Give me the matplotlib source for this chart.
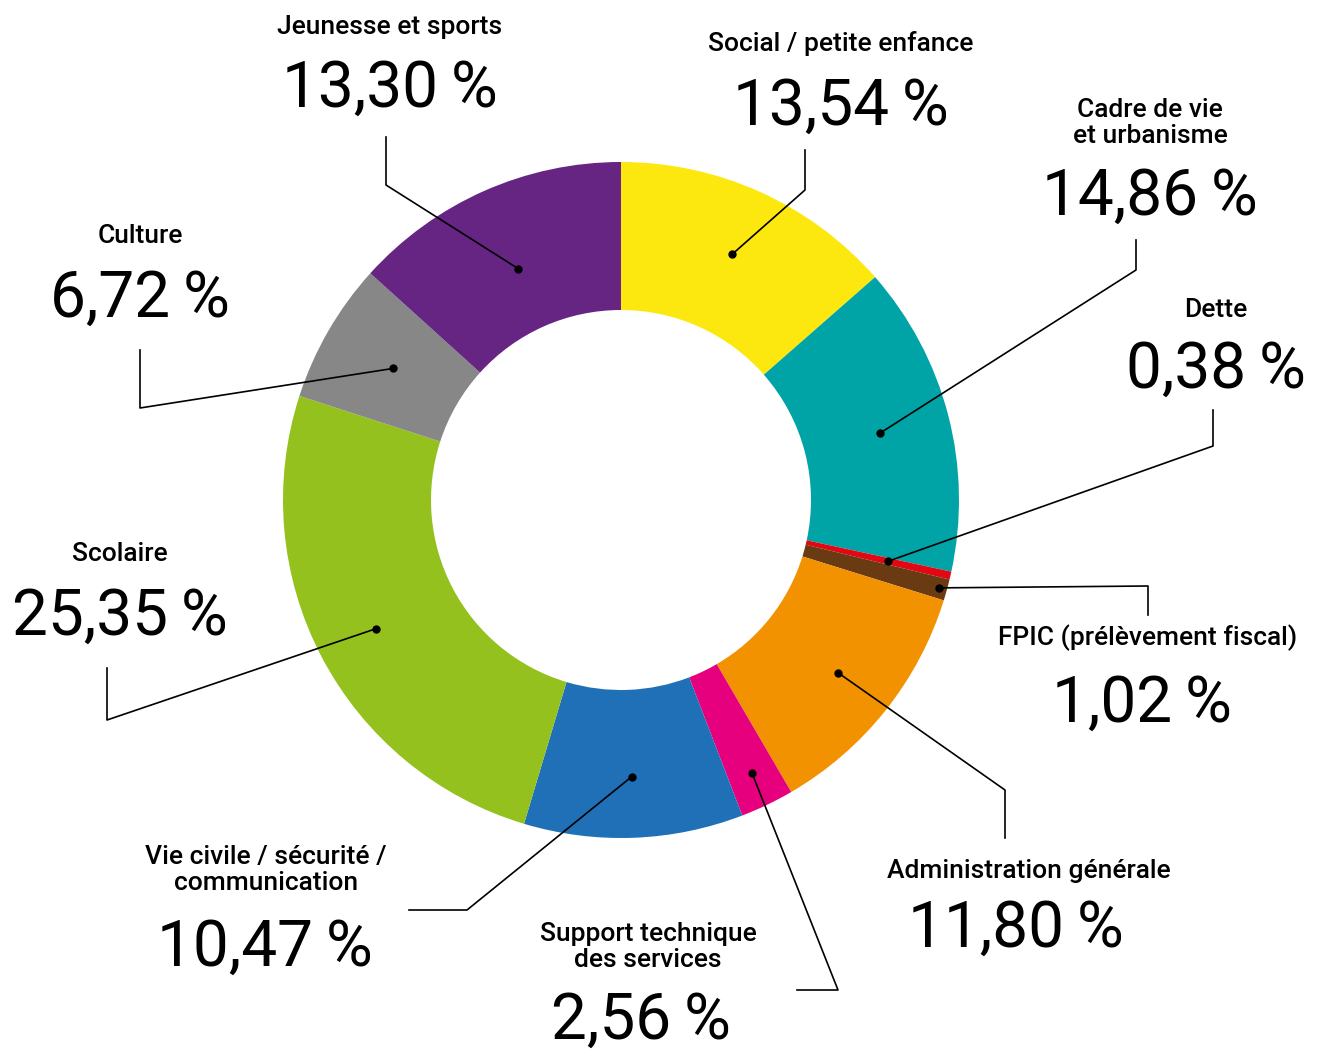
import numpy as np
import matplotlib
matplotlib.use("Agg")
import matplotlib.pyplot as plt

# données
categories = ["Social / petite enfance", "Cadre de vie\net urbanisme", "Dette",
              "FPIC (prélèvement fiscal)", "Administration générale",
              "Support technique\ndes services", "Vie civile / sécurité /\ncommunication",
              "Scolaire", "Culture", "Jeunesse et sports"]
values = [13.54, 14.86, 0.38, 1.02, 11.80, 2.56, 10.47, 25.35, 6.72, 13.30]
pct_labels = ["13,54\u2009%", "14,86\u2009%", "0,38\u2009%", "1,02\u2009%", "11,80\u2009%",
              "2,56\u2009%", "10,47\u2009%", "25,35\u2009%", "6,72\u2009%", "13,30\u2009%"]
colors = ["#FCE80F", "#00A4A7", "#E30613", "#6A3A12", "#F39200",
          "#E6007E", "#1F70B7", "#95C11F", "#878787", "#662483"]

# mise en page (pixels)
cx, cy = 621, 500
R_out, R_in = 338, 190
dot_r = [270, 268, 274, 330, 277, 303, 277, 277, 263, 253]
# coude, fin de ligne, position du titre, position du pourcentage
elbows = [(805, 190), (1136, 270), (1213, 446), (1148, 586), (1005, 790),
          (838, 990), (467, 910), (107, 720), (140, 408), (386, 185)]
ends = [(805, 150), (1136, 240), (1213, 410), (1148, 615), (1005, 838),
        (797, 990), (409, 910), (107, 668), (140, 350), (386, 137)]
title_pos = [(841, 44), (1150, 123), (1216, 310), (1148, 638), (1029, 871),
             (648, 947), (266, 870), (120, 554), (140, 236), (390, 27)]
pct_pos = [(841, 107), (1150, 197), (1216, 370), (1142, 704), (1016, 929),
           (641, 1021), (265, 948), (120, 617), (140, 299), (390, 89)]

big_font = ['Roboto', 'DejaVu Sans']
small_font = ['Roboto', 'DejaVu Sans']

fig = plt.figure(figsize=(13.18, 10.52), dpi=100)
ax = fig.add_axes([0, 0, 1, 1])
ax.pie(values, colors=colors, center=(cx, cy), radius=R_out,
       startangle=-90, counterclock=True,
       wedgeprops=dict(width=R_out - R_in, linewidth=0))
ax.set_xlim(0, 1318)
ax.set_ylim(1052, 0)
ax.set_aspect('equal')
ax.axis('off')

cum = np.cumsum(values) - np.array(values) / 2.0
for i in range(len(values)):
    th = np.deg2rad(-90 + cum[i] / 100.0 * 360)
    px = cx + dot_r[i] * np.cos(th)
    py = cy + dot_r[i] * np.sin(th)
    ex, ey = elbows[i]
    fx, fy = ends[i]
    ax.plot([px, ex, fx], [py, ey, fy], color='black', lw=1.2, zorder=3)
    ax.plot(px, py, 'o', color='black', ms=5, zorder=4)
    tx, ty = title_pos[i]
    ax.text(tx, ty, categories[i], ha='center', va='center', fontsize=19,
            family=small_font, weight='medium', linespacing=1.15)
    nx, ny = pct_pos[i]
    ax.text(nx, ny, pct_labels[i], ha='center', va='center', fontsize=46,
            family=big_font)

fig.savefig("out.png", dpi=100)
